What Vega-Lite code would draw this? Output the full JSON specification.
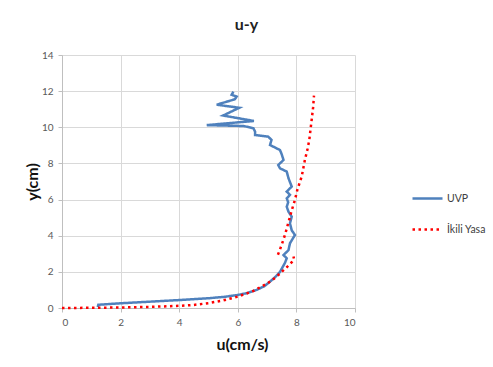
{
  "$schema": "https://vega.github.io/schema/vega-lite/v6.json",
  "width": 293,
  "height": 253,
  "autosize": {"type": "none"},
  "padding": {"left": 62, "top": 55, "right": 138, "bottom": 59},
  "background": "white",
  "title": {"text": "u-y", "fontSize": 16, "font": "Lato", "fontWeight": "bold", "color": "#222222", "dx": 38, "offset": 17, "anchor": "middle"},
  "data": {"values": [
    {"series": "UVP", "seg": "b", "i": 1, "u": 1.22, "y": 0.05},
    {"series": "UVP", "seg": "b", "i": 2, "u": 1.24, "y": 0.18},
    {"series": "UVP", "seg": "b", "i": 3, "u": 2.0, "y": 0.26},
    {"series": "UVP", "seg": "b", "i": 4, "u": 3.0, "y": 0.35},
    {"series": "UVP", "seg": "b", "i": 5, "u": 4.0, "y": 0.44},
    {"series": "UVP", "seg": "b", "i": 6, "u": 5.0, "y": 0.54},
    {"series": "UVP", "seg": "b", "i": 7, "u": 5.5, "y": 0.61},
    {"series": "UVP", "seg": "b", "i": 8, "u": 6.0, "y": 0.72},
    {"series": "UVP", "seg": "b", "i": 9, "u": 6.3, "y": 0.82},
    {"series": "UVP", "seg": "b", "i": 10, "u": 6.64, "y": 1.0},
    {"series": "UVP", "seg": "b", "i": 11, "u": 6.9, "y": 1.2},
    {"series": "UVP", "seg": "b", "i": 12, "u": 7.1, "y": 1.46},
    {"series": "UVP", "seg": "b", "i": 13, "u": 7.3, "y": 1.75},
    {"series": "UVP", "seg": "b", "i": 14, "u": 7.44, "y": 2.0},
    {"series": "UVP", "seg": "b", "i": 15, "u": 7.61, "y": 2.5},
    {"series": "UVP", "seg": "b", "i": 16, "u": 7.67, "y": 2.75},
    {"series": "UVP", "seg": "b", "i": 17, "u": 7.56, "y": 2.93},
    {"series": "UVP", "seg": "b", "i": 18, "u": 7.73, "y": 3.2},
    {"series": "UVP", "seg": "b", "i": 19, "u": 7.78, "y": 3.58},
    {"series": "UVP", "seg": "b", "i": 20, "u": 7.95, "y": 4.04},
    {"series": "UVP", "seg": "b", "i": 21, "u": 7.84, "y": 4.3},
    {"series": "UVP", "seg": "b", "i": 22, "u": 7.78, "y": 4.69},
    {"series": "UVP", "seg": "b", "i": 23, "u": 7.84, "y": 5.05},
    {"series": "UVP", "seg": "b", "i": 24, "u": 7.73, "y": 5.33},
    {"series": "UVP", "seg": "b", "i": 25, "u": 7.67, "y": 5.6},
    {"series": "UVP", "seg": "b", "i": 26, "u": 7.72, "y": 5.85},
    {"series": "UVP", "seg": "b", "i": 27, "u": 7.67, "y": 6.07},
    {"series": "UVP", "seg": "b", "i": 28, "u": 7.78, "y": 6.26},
    {"series": "UVP", "seg": "b", "i": 29, "u": 7.67, "y": 6.44},
    {"series": "UVP", "seg": "b", "i": 30, "u": 7.84, "y": 6.72},
    {"series": "UVP", "seg": "b", "i": 31, "u": 7.73, "y": 7.18},
    {"series": "UVP", "seg": "b", "i": 32, "u": 7.67, "y": 7.55},
    {"series": "UVP", "seg": "b", "i": 33, "u": 7.44, "y": 7.73},
    {"series": "UVP", "seg": "b", "i": 34, "u": 7.38, "y": 7.91},
    {"series": "UVP", "seg": "b", "i": 35, "u": 7.56, "y": 8.19},
    {"series": "UVP", "seg": "b", "i": 36, "u": 7.5, "y": 8.5},
    {"series": "UVP", "seg": "b", "i": 37, "u": 7.44, "y": 8.74},
    {"series": "UVP", "seg": "b", "i": 38, "u": 7.1, "y": 9.02},
    {"series": "UVP", "seg": "b", "i": 39, "u": 7.15, "y": 9.3},
    {"series": "UVP", "seg": "b", "i": 40, "u": 7.04, "y": 9.48},
    {"series": "UVP", "seg": "b", "i": 41, "u": 6.59, "y": 9.57},
    {"series": "UVP", "seg": "b", "i": 42, "u": 6.59, "y": 9.76},
    {"series": "UVP", "seg": "b", "i": 43, "u": 6.53, "y": 9.95},
    {"series": "UVP", "seg": "b", "i": 44, "u": 6.2, "y": 10.07},
    {"series": "UVP", "seg": "b", "i": 45, "u": 4.94, "y": 10.12},
    {"series": "UVP", "seg": "b", "i": 46, "u": 6.55, "y": 10.35},
    {"series": "UVP", "seg": "b", "i": 47, "u": 5.5, "y": 10.65},
    {"series": "UVP", "seg": "b", "i": 48, "u": 6.05, "y": 11.08},
    {"series": "UVP", "seg": "b", "i": 49, "u": 5.28, "y": 11.25},
    {"series": "UVP", "seg": "b", "i": 50, "u": 5.9, "y": 11.55},
    {"series": "UVP", "seg": "b", "i": 51, "u": 5.96, "y": 11.7},
    {"series": "UVP", "seg": "b", "i": 52, "u": 5.79, "y": 11.8},
    {"series": "UVP", "seg": "b", "i": 53, "u": 5.85, "y": 11.97},
    {"series": "İkili Yasa", "seg": "r1", "i": 1, "u": 0, "y": 0},
    {"series": "İkili Yasa", "seg": "r1", "i": 2, "u": 0.5, "y": 0.005},
    {"series": "İkili Yasa", "seg": "r1", "i": 3, "u": 1, "y": 0.01},
    {"series": "İkili Yasa", "seg": "r1", "i": 4, "u": 2, "y": 0.03},
    {"series": "İkili Yasa", "seg": "r1", "i": 5, "u": 3, "y": 0.06},
    {"series": "İkili Yasa", "seg": "r1", "i": 6, "u": 4, "y": 0.12},
    {"series": "İkili Yasa", "seg": "r1", "i": 7, "u": 4.5, "y": 0.17},
    {"series": "İkili Yasa", "seg": "r1", "i": 8, "u": 5, "y": 0.27},
    {"series": "İkili Yasa", "seg": "r1", "i": 9, "u": 5.5, "y": 0.42},
    {"series": "İkili Yasa", "seg": "r1", "i": 10, "u": 6, "y": 0.63},
    {"series": "İkili Yasa", "seg": "r1", "i": 11, "u": 6.5, "y": 0.92},
    {"series": "İkili Yasa", "seg": "r1", "i": 12, "u": 7, "y": 1.35},
    {"series": "İkili Yasa", "seg": "r1", "i": 13, "u": 7.3, "y": 1.7},
    {"series": "İkili Yasa", "seg": "r1", "i": 14, "u": 7.5, "y": 2.0},
    {"series": "İkili Yasa", "seg": "r1", "i": 15, "u": 7.7, "y": 2.3},
    {"series": "İkili Yasa", "seg": "r1", "i": 16, "u": 7.85, "y": 2.55},
    {"series": "İkili Yasa", "seg": "r1", "i": 17, "u": 7.92, "y": 2.7},
    {"series": "İkili Yasa", "seg": "r1", "i": 18, "u": 7.9, "y": 2.85},
    {"series": "İkili Yasa", "seg": "r2", "i": 1, "u": 7.37, "y": 2.95},
    {"series": "İkili Yasa", "seg": "r2", "i": 2, "u": 7.5, "y": 3.5},
    {"series": "İkili Yasa", "seg": "r2", "i": 3, "u": 7.62, "y": 4.1},
    {"series": "İkili Yasa", "seg": "r2", "i": 4, "u": 7.73, "y": 4.75},
    {"series": "İkili Yasa", "seg": "r2", "i": 5, "u": 7.84, "y": 5.4},
    {"series": "İkili Yasa", "seg": "r2", "i": 6, "u": 7.95, "y": 5.98},
    {"series": "İkili Yasa", "seg": "r2", "i": 7, "u": 8.03, "y": 6.53},
    {"series": "İkili Yasa", "seg": "r2", "i": 8, "u": 8.18, "y": 7.27},
    {"series": "İkili Yasa", "seg": "r2", "i": 9, "u": 8.29, "y": 8.19},
    {"series": "İkili Yasa", "seg": "r2", "i": 10, "u": 8.38, "y": 8.8},
    {"series": "İkili Yasa", "seg": "r2", "i": 11, "u": 8.44, "y": 9.3},
    {"series": "İkili Yasa", "seg": "r2", "i": 12, "u": 8.52, "y": 10.4},
    {"series": "İkili Yasa", "seg": "r2", "i": 13, "u": 8.57, "y": 11.1},
    {"series": "İkili Yasa", "seg": "r2", "i": 14, "u": 8.6, "y": 11.75}
  ]},
  "mark": {"type": "line", "strokeWidth": 2.5, "strokeCap": "butt"},
  "encoding": {
    "x": {"field": "u", "type": "quantitative", "scale": {"domain": [0, 10], "nice": false},
      "axis": {"values": [0, 2, 4, 6, 8, 10], "title": "u(cm/s)", "titleX": 180, "titleY": 36, "titleBaseline": "middle", "titleAlign": "center"}},
    "y": {"field": "y", "type": "quantitative", "scale": {"domain": [0, 14], "nice": false},
      "axis": {"values": [0, 2, 4, 6, 8, 10, 12, 14], "title": "y(cm)", "titleX": -30, "titleY": 126.5, "titleAngle": -90, "titleBaseline": "middle", "titleAlign": "center"}},
    "color": {"field": "series", "type": "nominal", "title": null,
      "scale": {"domain": ["UVP", "İkili Yasa"], "range": ["#4F81BD", "#FF0000"]},
      "legend": {"orient": "none", "legendX": 349, "legendY": 127}},
    "strokeDash": {"field": "series", "type": "nominal", "title": null,
      "scale": {"domain": ["UVP", "İkili Yasa"], "range": [[1, 0], [2.5, 3.5]]},
      "legend": {"orient": "none", "legendX": 349, "legendY": 127}},
    "detail": {"field": "seg"},
    "order": {"field": "i", "type": "quantitative"}
  },
  "config": {
    "font": "Lato",
    "view": {"stroke": null},
    "axis": {
      "grid": true, "gridColor": "#D9D9D9", "gridWidth": 1,
      "domainColor": "#BFBFBF", "domainWidth": 1,
      "tickColor": "#BFBFBF", "tickSize": 4,
      "labelFont": "Lato", "labelFontSize": 10, "labelColor": "#595959", "labelPadding": 5,
      "titleFont": "Lato", "titleFontSize": 16, "titleFontWeight": "bold", "titleColor": "#111111"
    },
    "legend": {
      "symbolType": "stroke", "symbolSize": 900, "symbolStrokeWidth": 2.5,
      "labelFont": "Lato", "labelFontSize": 10.5, "labelColor": "#404040",
      "rowPadding": 9, "labelOffset": 3
    }
  }
}
